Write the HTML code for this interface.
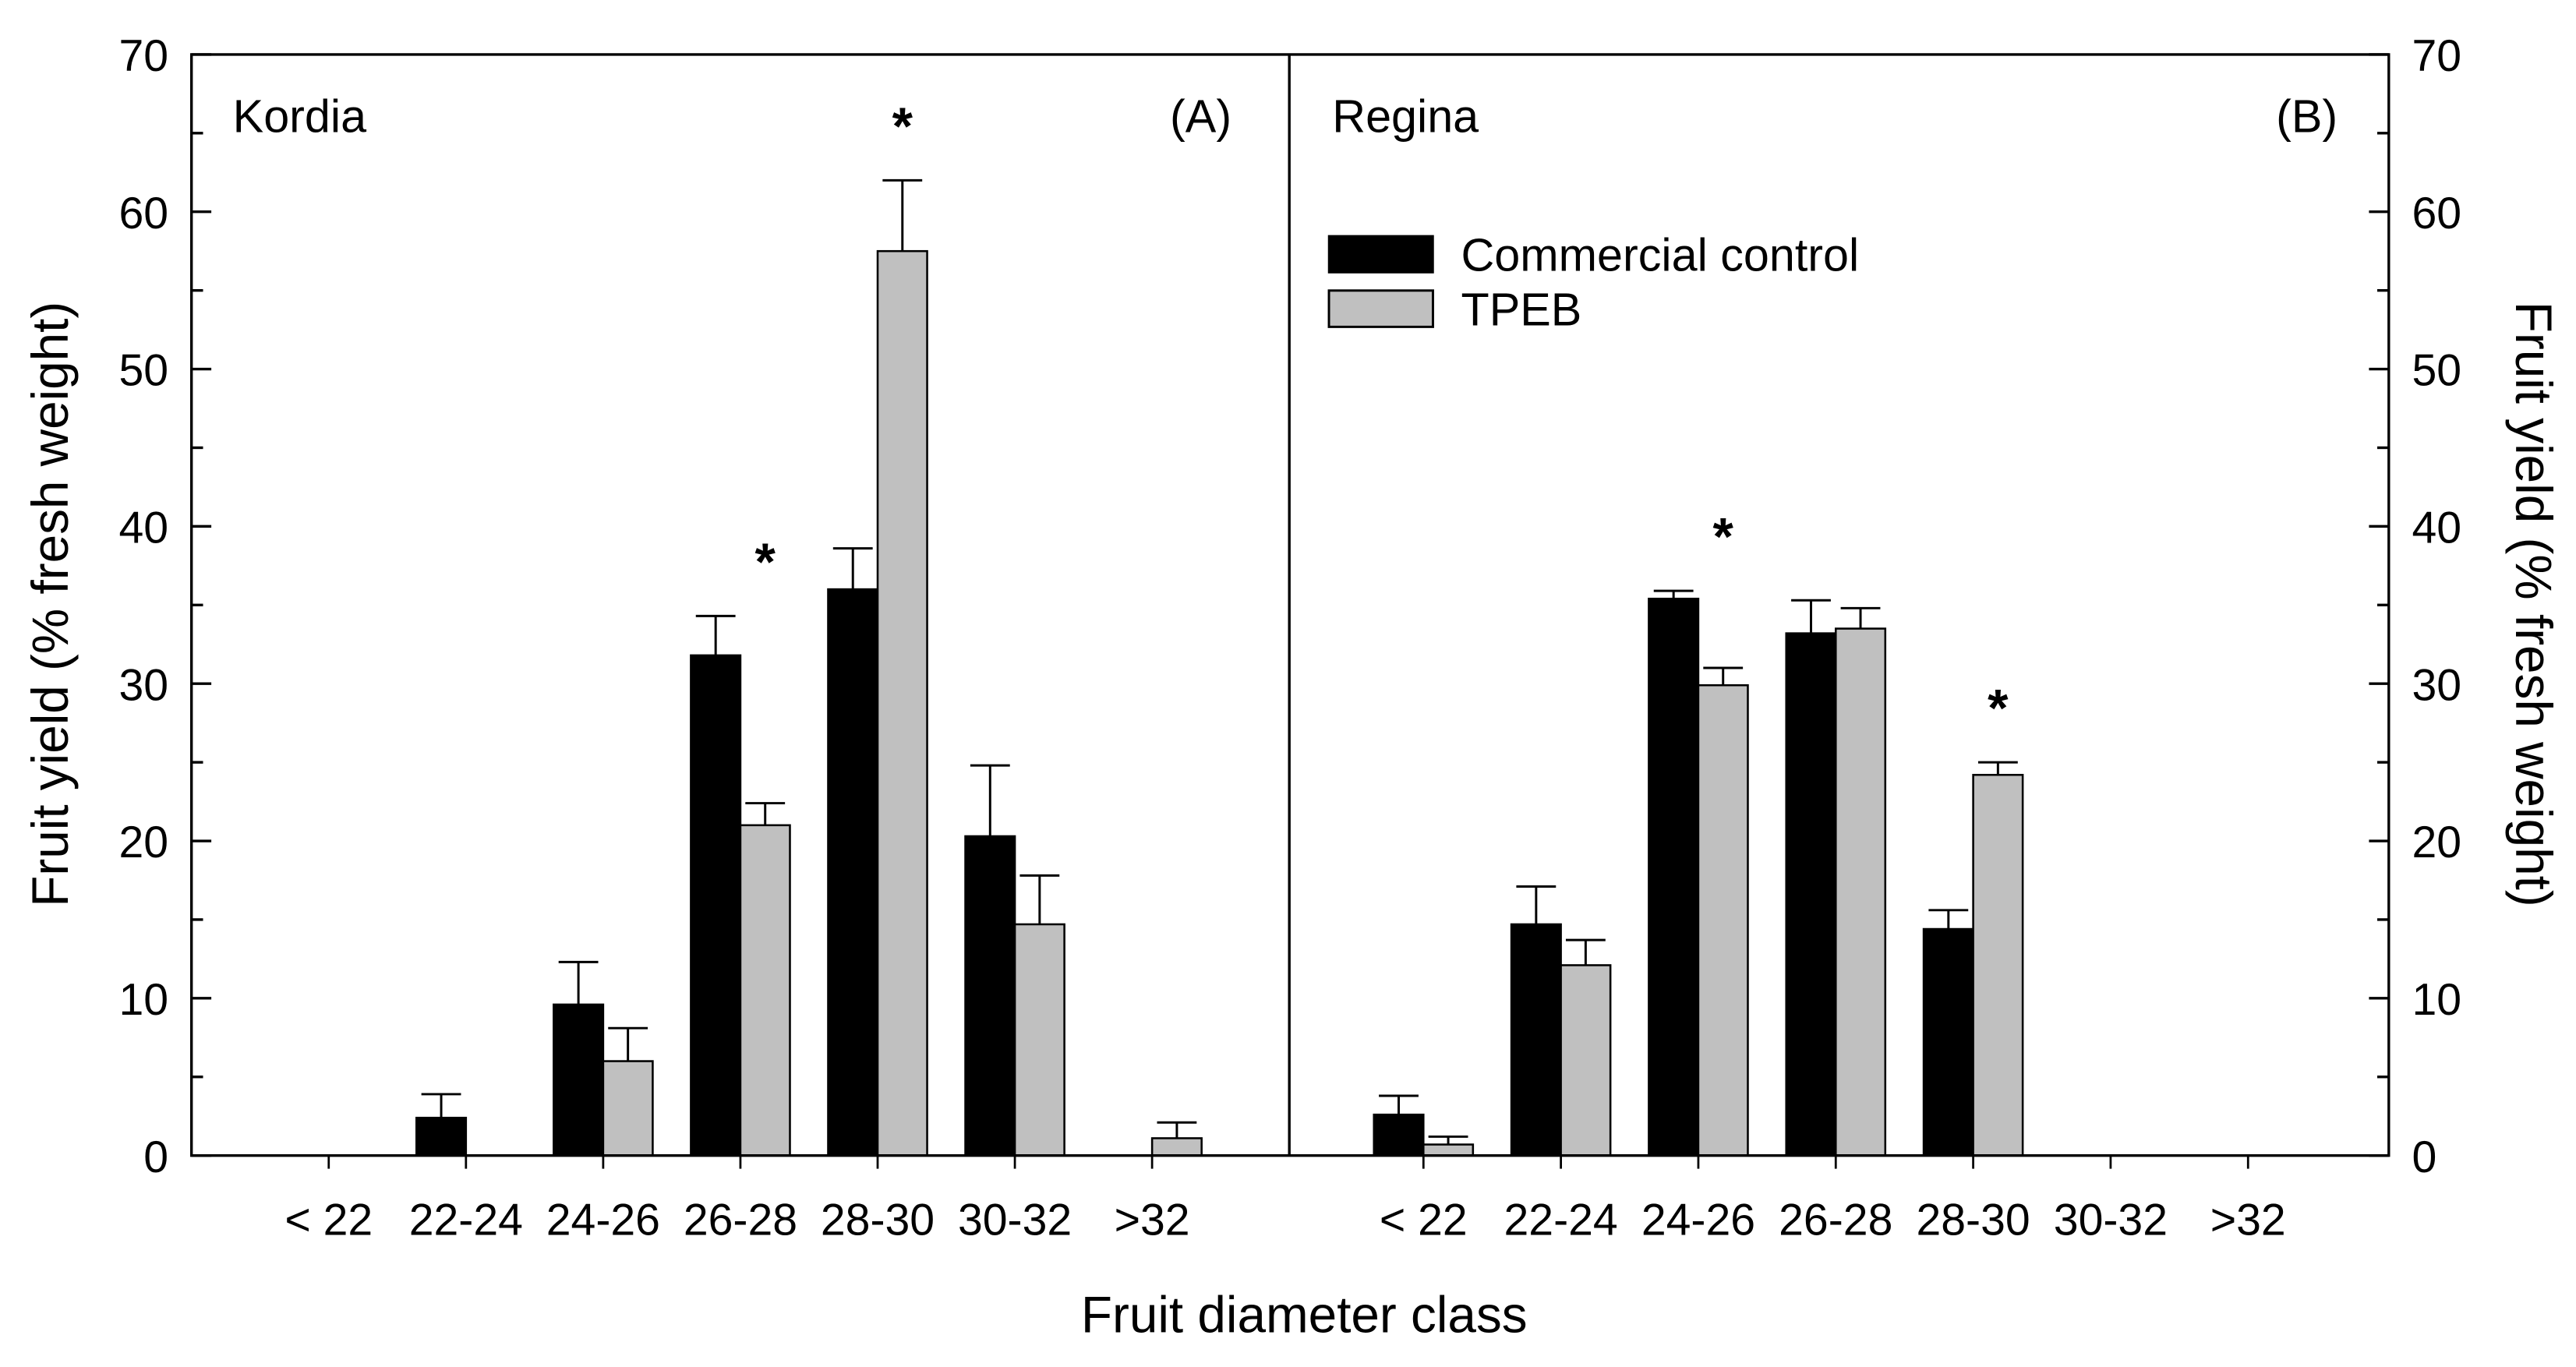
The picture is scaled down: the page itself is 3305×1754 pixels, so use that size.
<!DOCTYPE html>
<html><head><meta charset="utf-8"><style>
html,body{margin:0;padding:0;background:#fff;}
svg{display:block;font-family:"Liberation Sans",Arial,sans-serif;}
</style></head><body>
<svg id="chart" width="3305" height="1754" viewBox="0 0 1560.4 828.1" xmlns="http://www.w3.org/2000/svg">
<g id="root"></g>
</svg>
<script>
const categories = ["< 22","22-24","24-26","26-28","28-30","30-32",">32"];
const kordiaControl = [0, 2.4, 9.6, 31.8, 36.0, 20.3, 0];
const kordiaControlErr = [0, 1.5, 2.7, 2.5, 2.6, 4.5, 0];
const kordiaTpeb = [0, 0, 6.0, 21.0, 57.5, 14.7, 1.1];
const kordiaTpebErr = [0, 0, 2.1, 1.4, 4.5, 3.1, 1.0];
const kordiaSig = [false,false,false,true,true,false,false];
const reginaControl = [2.6, 14.7, 35.4, 33.2, 14.4, 0, 0];
const reginaControlErr = [1.2, 2.4, 0.5, 2.1, 1.2, 0, 0];
const reginaTpeb = [0.7, 12.1, 29.9, 33.5, 24.2, 0, 0];
const reginaTpebErr = [0.5, 1.6, 1.1, 1.3, 0.8, 0, 0];
const reginaSig = [false,false,true,false,true,false,false];
const yTicks = [0,10,20,30,40,50,60,70];

const NS="http://www.w3.org/2000/svg";
const rootG=document.getElementById('root');
function mk(tag,attrs,parent){const e=document.createElementNS(NS,tag);for(const k in attrs)e.setAttribute(k,attrs[k]);(parent||rootG).appendChild(e);return e;}
const plotTop=33, plotBottom=700, yMax=70;
function yS(v){return plotBottom-(plotBottom-plotTop)*v/yMax;}
const panels=[
 {x0:116,x1:781,ctrl:kordiaControl,ce:kordiaControlErr,tp:kordiaTpeb,te:kordiaTpebErr,sig:kordiaSig,name:"kordia"},
 {x0:781,x1:1447,ctrl:reginaControl,ce:reginaControlErr,tp:reginaTpeb,te:reginaTpebErr,sig:reginaSig,name:"regina"}
];
const barW=30, capW=12;
panels.forEach(p=>{
  const step=(p.x1-p.x0)/8;
  const cx=i=>p.x0+step*(i+1)+(p.name==="regina"?-2:0);
  const g=mk('g',{});
  
  
  categories.forEach((c,i)=>{
    const series=[[p.ctrl,p.ce,'#000',cx(i)-barW],[p.tp,p.te,'#c0c0c0',cx(i)]];
    series.forEach((s,si)=>{
      const v=s[0][i], e=s[1][i];
      if(v<=0) return;
      const r=mk('rect',{x:s[3],y:yS(v),width:barW,height:yS(0)-yS(v),fill:s[2],stroke:'#000','stroke-width':1.2},g);
      
      
      if(e>0){
        const mx=s[3]+barW/2;
        const l=mk('path',{d:`M${mx},${yS(v)} V${yS(v+e)} M${mx-capW},${yS(v+e)} H${mx+capW}`,stroke:'#000','stroke-width':1.4,fill:'none'},g);
        
        
      }
    });
    if(p.sig[i]){
      const mx=Math.max(p.ctrl[i]+p.ce[i], p.tp[i]+p.te[i]);
      const t=mk('text',{x:cx(i)+barW/2,y:yS(mx)-22,'font-size':32,'font-weight':'bold','text-anchor':'middle'},g);
      t.textContent='*';
      
      
    }
    const tk=mk('line',{x1:cx(i),x2:cx(i),y1:plotBottom,y2:plotBottom+8,stroke:'#000','stroke-width':1.3},g);
    
    
    const tl=mk('text',{x:cx(i),y:plotBottom+48,'font-size':27,'text-anchor':'middle'},g);
    tl.textContent=c;
    
    
  });
});
const fr=mk('path',{d:`M116,${plotTop} H1447 V${plotBottom} H116 Z M781,${plotTop} V${plotBottom}`,stroke:'#000','stroke-width':1.6,fill:'none'});


for(let v=0;v<=70;v+=5){
  const len=(v%10===0)?12:7;
  const a=mk('line',{x1:116,x2:116+len,y1:yS(v),y2:yS(v),stroke:'#000','stroke-width':1.6});
  
  
  const b=mk('line',{x1:1447-len,x2:1447,y1:yS(v),y2:yS(v),stroke:'#000','stroke-width':1.6});
  
  
}
yTicks.forEach(v=>{
  const a=mk('text',{x:102,y:yS(v)+10,'font-size':27,'text-anchor':'end'});
  a.textContent=v;
  
  
  const b=mk('text',{x:1461,y:yS(v)+10,'font-size':27,'text-anchor':'start'});
  b.textContent=v;
  
  
});
function label(txt,attrs,name){const t=mk('text',attrs);t.textContent=txt;return t;}
label('Kordia',{x:141,y:80,'font-size':28},'panel-a-title');
label('(A)',{x:746,y:80,'font-size':28,'text-anchor':'end'},'panel-a-label');
label('Regina',{x:807,y:80,'font-size':28},'panel-b-title');
label('(B)',{x:1416,y:80,'font-size':28,'text-anchor':'end'},'panel-b-label');
label('Fruit diameter class',{x:790,y:807,'font-size':31,'text-anchor':'middle'},'x-axis-title');
label('Fruit yield (% fresh weight)',{x:0,y:0,'font-size':31,'text-anchor':'middle',transform:'translate(41,366) rotate(-90)'},'left-y-axis-title');
label('Fruit yield (% fresh weight)',{x:0,y:0,'font-size':31,'text-anchor':'middle',transform:'translate(1524,366) rotate(90)'},'right-y-axis-title');
const lg=mk('g',{});


const r1=mk('rect',{x:805,y:143,width:63,height:22,fill:'#000',stroke:'#000','stroke-width':1.2},lg);


const r2=mk('rect',{x:805,y:176,width:63,height:22,fill:'#c0c0c0',stroke:'#000','stroke-width':1.4},lg);


label('Commercial control',{x:885,y:164,'font-size':28},'legend-entry-control');
label('TPEB',{x:885,y:197,'font-size':28},'legend-entry-tpeb');
</script>
</body></html>
